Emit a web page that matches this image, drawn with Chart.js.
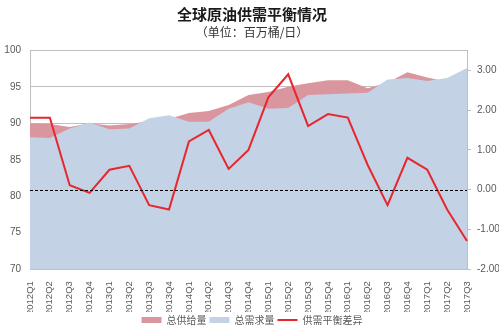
<!DOCTYPE html>
<html>
<head>
<meta charset="utf-8">
<script src="https://cdn.jsdelivr.net/npm/chart.js@4"></script>
<style>
  html, body { margin: 0; padding: 0; background: #fff; }
  #wrap { width: 500px; height: 335px; }
</style>
</head>
<body>
<div id="wrap"><canvas id="oilChart"></canvas></div>
<script>
const quarters = ['2012Q1','2012Q2','2012Q3','2012Q4','2013Q1','2013Q2','2013Q3','2013Q4',
  '2014Q1','2014Q2','2014Q3','2014Q4','2015Q1','2015Q2','2015Q3','2015Q4',
  '2016Q1','2016Q2','2016Q3','2016Q4','2017Q1','2017Q2','2017Q3'];

// 总供给量 / 总需求量 (百万桶/日, 左轴)
const supply = [90.0, 89.9, 89.5, 90.0, 89.7, 89.9, 90.3, 90.6, 91.4, 91.7, 92.5, 93.9,
  94.3, 95.0, 95.5, 95.9, 95.9, 94.8, 95.6, 97.0, 96.3, 95.7, 96.3];
const demand = [88.1, 88.0, 89.3, 90.1, 89.2, 89.3, 90.7, 91.1, 90.2, 90.2, 92.0, 92.9,
  92.0, 92.1, 93.9, 94.0, 94.1, 94.2, 96.0, 96.2, 95.8, 96.2, 97.6];
// 供需平衡差异 (右轴)
const balance = [1.81, 1.81, 0.11, -0.08, 0.5, 0.6, -0.39, -0.5, 1.21, 1.5, 0.52, 1.0,
  2.32, 2.9, 1.6, 1.9, 1.81, 0.62, -0.39, 0.8, 0.5, -0.5, -1.29];

const font = "'Liberation Sans', Arial, sans-serif";

// dashed zero line on top of the areas
const zeroLine = {
  id: 'zeroLine',
  afterDatasetsDraw(chart) {
    const { ctx, chartArea, scales } = chart;
    const y = Math.round(scales.y1.getPixelForValue(0)) + 0.5;
    ctx.save();
    ctx.strokeStyle = '#000';
    ctx.lineWidth = 1;
    ctx.setLineDash([3, 2]);
    ctx.beginPath();
    ctx.moveTo(chartArea.left, y);
    ctx.lineTo(chartArea.right, y);
    ctx.stroke();
    ctx.restore();
  }
};

new Chart(document.getElementById('oilChart'), {
  type: 'line',
  data: {
    labels: quarters,
    datasets: [
      {
        label: '总供给量',
        data: supply,
        yAxisID: 'y',
        backgroundColor: '#DA969E',
        borderWidth: 0,
        fill: 'start',
        pointRadius: 0,
        pointStyle: 'rect',
        tension: 0,
        order: 2
      },
      {
        label: '总需求量',
        data: demand,
        yAxisID: 'y',
        backgroundColor: '#C3D3E5',
        borderWidth: 0,
        fill: 'start',
        pointRadius: 0,
        pointStyle: 'rect',
        tension: 0,
        order: 1
      },
      {
        label: '供需平衡差异',
        data: balance,
        yAxisID: 'y1',
        borderColor: '#E8262E',
        backgroundColor: '#E8262E',
        borderWidth: 2,
        fill: false,
        pointRadius: 0,
        pointStyle: 'line',
        tension: 0,
        order: 0
      }
    ]
  },
  options: {
    responsive: true,
    maintainAspectRatio: false,
    animation: false,
    layout: { padding: { left: 5, right: 1, top: 0, bottom: 0 } },
    plugins: {
      title: {
        display: true,
        text: '全球原油供需平衡情况',
        color: '#1a1a1a',
        font: { family: "'Noto Sans CJK SC', sans-serif", size: 15, weight: 'bold' },
        padding: { top: 5, bottom: 2 }
      },
      subtitle: {
        display: true,
        text: '（单位：百万桶/日）',
        color: '#333',
        font: { family: "'Noto Sans CJK SC', sans-serif", size: 12 },
        padding: { bottom: 11 }
      },
      legend: {
        position: 'bottom',
        labels: {
          usePointStyle: true,
          pointStyleWidth: 20,
          boxHeight: 6,
          padding: 3,
          color: '#595959',
          font: { family: "'Noto Sans CJK SC', sans-serif", size: 10 },
          sort: (a, b) => a.datasetIndex - b.datasetIndex
        }
      },
      tooltip: { enabled: false }
    },
    scales: {
      x: {
        grid: { display: false },
        border: { color: '#BFBFBF' },
        ticks: {
          color: '#595959',
          font: { family: font, size: 9.5 },
          minRotation: 90,
          maxRotation: 90,
          autoSkip: false,
          padding: 4
        },
        afterFit(scale) {
          scale.paddingLeft = 0;
          scale.paddingRight = 0;
          scale.height = scale.height - 7;
        }
      },
      y: {
        position: 'left',
        min: 70,
        max: 100,
        ticks: {
          stepSize: 5,
          color: '#595959',
          font: { family: font, size: 10 },
          padding: 9
        },
        grid: { color: '#BFBFBF', drawTicks: false, tickLength: 0 },
        border: { color: '#BFBFBF' },
        afterFit(scale) { scale.width = 25; }
      },
      y1: {
        position: 'right',
        min: -2,
        max: 3.5,
        ticks: {
          stepSize: 1,
          color: '#595959',
          font: { family: font, size: 10 },
          padding: 6,
          callback: v => Number.isInteger(v) ? v.toFixed(2) : ''
        },
        grid: {
          drawOnChartArea: false,
          color: ctx => Number.isInteger(ctx.tick && ctx.tick.value) ? '#BFBFBF' : 'transparent',
          tickLength: 4
        },
        border: { color: '#BFBFBF' },
        afterFit(scale) { scale.width = 32; }
      }
    }
  },
  plugins: [zeroLine]
});
</script>
</body>
</html>
